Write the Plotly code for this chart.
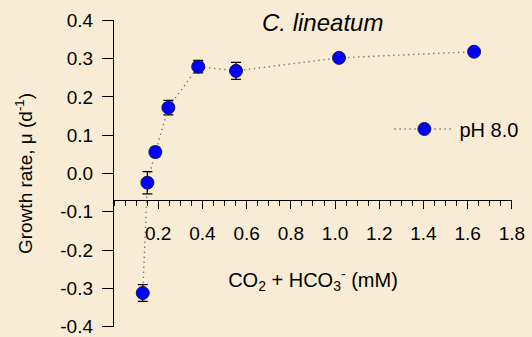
import plotly.graph_objects as go

# ---- data ----
conc_mM = [0.130, 0.151, 0.187, 0.246, 0.381, 0.552, 1.018, 1.629]
growth = [-0.312, -0.024, 0.056, 0.172, 0.279, 0.268, 0.302, 0.318]
growth_err = [0.022, 0.029, 0.012, 0.019, 0.016, 0.022, 0.005, 0.008]
series_name = "pH 8.0"
title_text = "<i>C. lineatum</i>"

x_tickvals = [0.2, 0.4, 0.6, 0.8, 1.0, 1.2, 1.4, 1.6, 1.8]
x_ticktext = ["0.2", "0.4", "0.6", "0.8", "1.0", "1.2", "1.4", "1.6", "1.8"]
y_tickvals = [0.4, 0.3, 0.2, 0.1, 0.0, -0.1, -0.2, -0.3, -0.4]
y_ticktext = ["0.4", "0.3", "0.2", "0.1", "0.0", "-0.1", "-0.2", "-0.3", "-0.4"]

X_RANGE = [0, 1.8005]
Y_RANGE = [-0.4008, 0.4008]
X_AXIS_CROSS = -0.068  # y value where the x axis is drawn

FONT = "Arial, Liberation Sans, sans-serif"
BG = "#F8EDD4"

fig = go.Figure()
fig.add_trace(go.Scatter(
    x=conc_mM, y=growth, name=series_name, mode="lines+markers",
    line=dict(color="#7a7a7a", width=1.4, dash="1.4px,3.6px"),
    marker=dict(color="#0000FF", size=13, line=dict(color="#1a1a4a", width=1)),
    error_y=dict(type="data", array=growth_err, color="black", thickness=1.3, width=5),
    showlegend=True,
))

xpos = (X_AXIS_CROSS - Y_RANGE[0]) / (Y_RANGE[1] - Y_RANGE[0])

fig.update_layout(
    width=532, height=337,
    margin=dict(l=114, r=20, t=20, b=10, autoexpand=False),
    paper_bgcolor=BG, plot_bgcolor=BG,
    font=dict(family=FONT, color="black", size=19),
    showlegend=True,
    legend=dict(x=0.692, y=0.645, xanchor="left", yanchor="middle",
                bgcolor="rgba(0,0,0,0)", font=dict(size=20, family=FONT),
                itemwidth=60),
    xaxis=dict(
        range=X_RANGE, anchor="free", position=xpos, automargin=False,
        showline=True, linecolor="black", linewidth=1.3,
        showgrid=False, zeroline=False,
        ticks="outside", ticklen=8, tickwidth=1.3, tickcolor="black",
        tickvals=x_tickvals, ticktext=x_ticktext,
        tickfont=dict(size=19, family=FONT),
        ticklabelstandoff=9, ticklabeloverflow="allow",
        minor=dict(dtick=0.05, tick0=0, ticks="outside", ticklen=5,
                   tickwidth=1.3, tickcolor="black", showgrid=False),
        title=dict(text="CO<sub>2</sub> + HCO<sub>3</sub><sup>-</sup> (mM)",
                   font=dict(size=20, family=FONT), standoff=29),
    ),
    yaxis=dict(
        range=Y_RANGE, automargin=False,
        showline=True, linecolor="black", linewidth=1.3,
        showgrid=False, zeroline=False,
        ticks="outside", ticklen=11, tickwidth=1.3, tickcolor="black",
        tickvals=y_tickvals, ticktext=y_ticktext,
        tickfont=dict(size=19, family=FONT),
        ticklabelstandoff=5, ticklabeloverflow="allow",
        title=dict(text="Growth rate, μ (d<sup>-1</sup>)",
                   font=dict(size=19, family=FONT), standoff=22),
    ),
    annotations=[dict(
        text=title_text, xref="paper", yref="paper", x=0.523, y=0.993,
        xanchor="center", yanchor="middle", showarrow=False,
        font=dict(size=24, family=FONT, color="black"),
    )],
)

fig.write_html(
    "out.html",
    config={"displayModeBar": False},
    post_script="document.body.style.margin='0';document.body.style.background='%s';" % BG,
)
